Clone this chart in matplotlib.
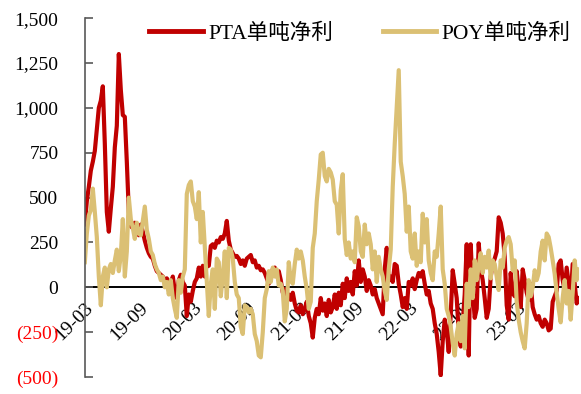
import numpy as np
import pandas as pd
import matplotlib
matplotlib.use("Agg")
import matplotlib.pyplot as plt

plt.rcParams['font.family'] = ['Liberation Serif', 'Noto Sans CJK SC']

# 单吨净利 (元/吨), 约每周一个点
pta = [350, 480, 560, 650, 700, 760, 880, 1000, 1040, 1120,
       800, 420, 310, 440, 560, 780, 900, 1300, 1100, 960,
       950, 700, 420, 340, 330, 360, 320, 290, 350, 310,
       260, 220, 190, 170, 160, 120, 90, 80, 70, 60,
       40, 50, 30, 10, 60, -20, -60, 40, 70, 30,
       10, -160, -40, -80, -20, 30, 50, 110, 60, 120,
       60, 130, 120, 230, 240, 220, 260, 250, 280, 270,
       300, 370, 260, 210, 190, 170, 175, 160, 130, 150,
       120, 160, 170, 180, 140, 150, 110, 120, 95, 100,
       80, 50, 20, 60, 100, 110, 60, 90, 40, -30,
       -10, -60, -40, -70, -30, -90, -130, -140, -100, -150,
       -120, -80, -160, -200, -280, -170, -120, -150, -60, -130,
       -90, -160, -70, -140, -110, -40, -120, -30, -100, 20,
       -60, 50, -20, 30, -40, 90, 10, 150, 30, 100,
       60, -20, 40, 10, -40, -10, -60, -90, -120, -150,
       100, 220, 40, 60, 30, 130, 120, 20, -40, -110,
       -60, -120, 30, 10, 50, -10, 40, 80, 60, 90,
       20, -40, -20, -90, -120, -200, -260, -360, -490, -300,
       -180, -240, -360, -150, 95, 20, -60, -250, -330, -200,
       -40, 240, -380, 240, -20, -170, -120, 245, 100, 40,
       -60, -170, -120, 60, 130, 160, 200, 390, 360, 300,
       170, -100, -180, 80, -30, -50, 90, -20, -110, 100,
       40, -30, -70, 20, -110, -150, -180, -160, -200, -220,
       -180, -200, -240, -230, -80, -50, -20, 130, 150, 40,
       -15, 110, 20, -70, 130, 20, -90, -60]

poy = [140, 300, 400, 430, 550, 420, 280, 60, -100, 60,
       110, 0, 100, 130, 80, 150, 210, 90, 180, 380,
       60, 200, 500, 380, 330, 270, 360, 300, 290, 370,
       450, 320, 270, 200, 180, 130, 100, 80, 40, 60,
       0, 30, -40, 40, -60, -120, -170, 40, -30, 60,
       100, 520, 570, 590, 480, 450, 380, 530, 250, 420,
       230, 40, -160, 20, 100, -120, 160, 140, -50, 60,
       200, -60, 220, 210, 160, 30, -40, -60, -220, -260,
       -100, -110, -140, -120, -150, -260, -300, -380, -390, -250,
       -60, -10, 90, 30, 110, 60, 100, 10, 20, -20,
       -190, -120, 140, 40, 20, 130, 210, 160, 200, 150,
       60, -10, -120, -80, 220, 300, 480, 600, 740, 750,
       620, 590, 660, 640, 600, 480, 460, 300, 540, 630,
       270, 180, 250, 160, 200, 140, 390, 340, 200, 170,
       350, 240, 300, 240, 100, 200, 30, 170, 100, 60,
       -20, -70, 100, 210, 560, 800, 1000, 1210, 700, 620,
       520, 310, 450, 200, 160, 300, 120, 200, 140, 410,
       250, 380, 150, 80, 40, 200, 170, 300, 450, 100,
       20, -120, -160, -220, -310, -380, -260, -200, -300, -160,
       -340, 20, -110, 100, -60, 150, 40, 120, 190, 80,
       170, 110, 205, 50, 150, 130, 60, -15, 150, 110,
       220, 260, 280, 240, 95, 150, -80, -180, -250, -300,
       -340, -200, 40, -50, 0, 95, 40, 80, 200, 260,
       150, 300, 280, 220, 150, 75, -30, -120, -195, -60,
       40, -90, -20, -180, -30, 150, 40, 100]

start, end = pd.Timestamp('2019-03-01'), pd.Timestamp('2023-09-25')
dates = pd.date_range(start, end, periods=len(pta))

red = '#C00000'
tan = '#DBC074'

fig = plt.figure(figsize=(5.81, 3.94), dpi=100)
ax = fig.add_axes([0.146, 0.043, 0.85, 0.911])

# 横轴放在 0 处 (先设置, 否则会重置刻度)
for s in ['top', 'right']:
    ax.spines[s].set_visible(False)
ax.spines['bottom'].set_position(('data', 0))
ax.spines['bottom'].set_visible(False)
ax.spines['left'].set_color('#595959')
ax.spines['left'].set_linewidth(1.2)

ax.plot(dates, pta, color=red, lw=3.0, label='PTA单吨净利', solid_joinstyle='round')
ax.plot(dates, poy, color=tan, lw=3.0, label='POY单吨净利', solid_joinstyle='round')
ax.axhline(0, color='black', lw=1.4, zorder=1)

ax.set_xlim(start, end)
ax.set_ylim(-500, 1500)

yt = np.arange(-500, 1501, 250)
ax.set_yticks(yt)
ylabels = [f'({abs(v)})' if v < 0 else f'{v:,}' for v in yt]
ax.set_yticklabels(ylabels, fontsize=14)
for lab, v in zip(ax.get_yticklabels(), yt):
    if v < 0:
        lab.set_color('red')
ax.tick_params(axis='y', direction='in', length=6, width=1.2, color='#595959', pad=19)

xt = pd.date_range('2019-03-01', '2023-03-01', freq='6MS')
ax.set_xticks(xt)
ax.set_xticklabels([d.strftime('%y-%m') for d in xt], fontsize=14,
                   rotation=45, ha='right', rotation_mode='anchor')
ax.tick_params(axis='x', length=0, pad=9)

leg = ax.legend(loc='upper center', bbox_to_anchor=(0.557, 1.04), ncol=2, frameon=False,
                fontsize=15.5, handlelength=2.5, columnspacing=2.3, handletextpad=0.25)
for line in leg.get_lines():
    line.set_linewidth(3.5)

fig.savefig('out.png', dpi=100)
